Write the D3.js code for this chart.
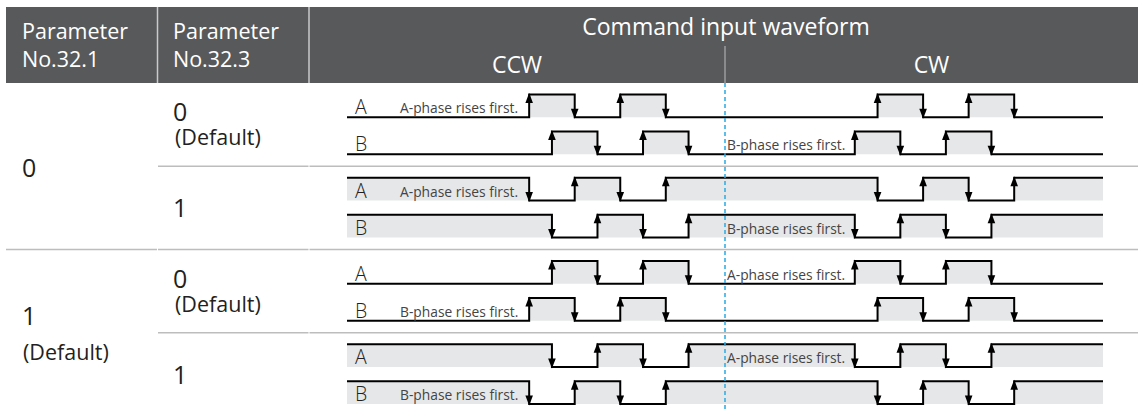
<!DOCTYPE html>
<html><head><meta charset="utf-8">
<script src="https://cdn.jsdelivr.net/npm/d3@7"></script>
<style>
html,body{margin:0;padding:0;background:#fff;}
svg{display:block;font-family:"Open Sans","Noto Sans",sans-serif;}
</style></head><body>
<svg id="chart" width="1138" height="409"></svg>
<script>
// ---------- data ----------
const headerParam1 = ["Parameter", "No.32.1"];
const headerParam2 = ["Parameter", "No.32.3"];
const headerTitle = "Command input waveform";
const directions = ["CCW", "CW"];
const groupLabels = ["0", "1"];          // Parameter No.32.1
const groupDefault = [false, true];
const rowKeys = ["r1", "r2", "r3", "r4"];
const rowParam323 = ["0", "1", "0", "1"]; // Parameter No.32.3
const rowDefault = [true, false, true, false];
const rowStartHigh = [false, true, false, true];
const channels = ["A", "B"];
// edge times (arbitrary time units) for each waveform
const r1A = [80, 100, 120, 140, 233, 253, 273, 293];
const r1B = [90, 110, 130, 150, 223, 243, 263, 283];
const r2A = [80, 100, 120, 140, 233, 253, 273, 293];
const r2B = [90, 110, 130, 150, 223, 243, 263, 283];
const r3A = [90, 110, 130, 150, 223, 243, 263, 283];
const r3B = [80, 100, 120, 140, 233, 253, 273, 293];
const r4A = [90, 110, 130, 150, 223, 243, 263, 283];
const r4B = [80, 100, 120, 140, 233, 253, 273, 293];
const timeDomain = [0, 332];
const dirBoundary = 166;
const noteRows = [0, 0, 1, 1, 2, 2, 3, 3];
const noteChannels = ["A", "B", "A", "B", "B", "A", "B", "A"];
const noteDirs = ["CCW", "CW", "CCW", "CW", "CCW", "CW", "CCW", "CW"];
const noteTexts = ["A-phase rises first.", "B-phase rises first.", "A-phase rises first.", "B-phase rises first.",
                   "B-phase rises first.", "A-phase rises first.", "B-phase rises first.", "A-phase rises first."];

const waves = [
  {row: 0, ch: "A", edges: r1A}, {row: 0, ch: "B", edges: r1B},
  {row: 1, ch: "A", edges: r2A}, {row: 1, ch: "B", edges: r2B},
  {row: 2, ch: "A", edges: r3A}, {row: 2, ch: "B", edges: r3B},
  {row: 3, ch: "A", edges: r4A}, {row: 3, ch: "B", edges: r4B}
];

// ---------- layout ----------
const svg = d3.select("#chart");
const W = 1138, H = 409;
const headerTop = 7, headerBottom = 83;
const col1 = 157.5, col2 = 309;
const x = d3.scaleLinear().domain(timeDomain).range([347, 1103]);
const rowY = d3.scaleBand().domain(rowKeys).range([83, 416]).padding(0);
const chLow = d3.scaleOrdinal().domain(channels).range([34.3, 71.3]);
const amp = 22.7;
const levelY = (row, ch, lvl) => rowY(rowKeys[row]) + chLow(ch) - lvl * amp;
const xDiv = x(dirBoundary);

const textColor = "#231f20";
const fillGray = "#e6e7e8";

// header
svg.append("rect").attr("x", 6).attr("y", headerTop).attr("width", W - 6).attr("height", headerBottom - headerTop).attr("fill", "#58595b");
[col1, col2].forEach(cx => {
  svg.append("line").attr("x1", cx).attr("x2", cx).attr("y1", headerTop).attr("y2", headerBottom)
    .attr("stroke", "#c9cacb").attr("stroke-width", 1.5);
});
svg.append("line").attr("x1", xDiv).attr("x2", xDiv).attr("y1", 46).attr("y2", headerBottom)
  .attr("stroke", "#bcbec0").attr("stroke-width", 1);

const hdrFont = 21.5;
headerParam1.forEach((t, i) => svg.append("text").attr("x", 22).attr("y", 39 + i * 28).text(t)
  .attr("fill", "#fff").attr("font-size", hdrFont).attr("font-weight", 400));
headerParam2.forEach((t, i) => svg.append("text").attr("x", 173).attr("y", 39 + i * 28).text(t)
  .attr("fill", "#fff").attr("font-size", hdrFont).attr("font-weight", 400));
svg.append("text").attr("x", xDiv + 1).attr("y", 35).attr("text-anchor", "middle").text(headerTitle)
  .attr("fill", "#fff").attr("font-size", 23).attr("font-weight", 400);
const dirCenters = [(col2 + xDiv) / 2, (xDiv + W) / 2];
directions.forEach((d, i) => svg.append("text").attr("x", dirCenters[i]).attr("y", 73).attr("text-anchor", "middle").text(d)
  .attr("fill", "#fff").attr("font-size", 23).attr("font-weight", 400));

// row separators
const sepColor = "#bdbdbd";
function hsep(y, x0) {
  const segs = x0 < col1 ? [[6, col1 - 0.5], [col1 + 0.5, col2 - 0.5], [col2 + 0.5, W]] : [[col1 + 0.5, col2 - 0.5], [col2 + 0.5, W]];
  segs.forEach(s => svg.append("line").attr("x1", s[0]).attr("x2", s[1]).attr("y1", y).attr("y2", y)
    .attr("stroke", sepColor).attr("stroke-width", 1.5));
}
hsep(rowY("r2"), col1);
hsep(rowY("r3"), 0);
hsep(rowY("r4"), col1);

// left column (No.32.1)
groupLabels.forEach((g, i) => {
  const top = rowY(rowKeys[i * 2]);
  const bottom = rowY(rowKeys[i * 2 + 1]) + rowY.bandwidth();
  const c = (top + bottom) / 2;
  const yMain = groupDefault[i] ? c - 8 : c + 11;
  svg.append("text").attr("x", 22).attr("y", yMain).text(g).attr("fill", textColor).attr("font-size", 25).attr("font-weight", 500);
  if (groupDefault[i]) {
    svg.append("text").attr("x", 23).attr("y", c + 27).text("(Default)").attr("fill", textColor).attr("font-size", 21.5).attr("font-weight", 400);
  }
});

// second column (No.32.3)
rowParam323.forEach((p, i) => {
  const top = rowY(rowKeys[i]);
  const yMain = rowDefault[i] ? top + 38 : top + 51;
  svg.append("text").attr("x", 173).attr("y", yMain).text(p).attr("fill", textColor).attr("font-size", 25).attr("font-weight", 500);
  if (rowDefault[i]) {
    svg.append("text").attr("x", 175).attr("y", top + 62).text("(Default)").attr("fill", textColor).attr("font-size", 21.5).attr("font-weight", 400);
  }
});

// waveforms
const line = d3.line().x(d => x(d.t)).y(d => d.y).curve(d3.curveStepAfter);
const area = d3.area().x(d => x(d.t)).y0(d => d.y0).y1(d => d.y).curve(d3.curveStepAfter);
const gFill = svg.append("g");
const gLine = svg.append("g");
const gArrow = svg.append("g");
const gLabel = svg.append("g");

waves.forEach(w => {
  let lvl = rowStartHigh[w.row] ? 1 : 0;
  const low = levelY(w.row, w.ch, 0), high = levelY(w.row, w.ch, 1);
  const pts = [{t: timeDomain[0], y: levelY(w.row, w.ch, lvl), y0: low}];
  const arrows = [];
  w.edges.forEach(t => {
    lvl = 1 - lvl;
    pts.push({t, y: levelY(w.row, w.ch, lvl), y0: low});
    arrows.push({t, up: lvl === 1});
  });
  pts.push({t: timeDomain[1], y: levelY(w.row, w.ch, lvl), y0: low});
  gFill.append("path").attr("d", area(pts)).attr("fill", fillGray);
  gLine.append("path").attr("d", line(pts)).attr("fill", "none").attr("stroke", "#000").attr("stroke-width", 2)
    .attr("stroke-linejoin", "miter").attr("stroke-linecap", "butt");
  arrows.forEach(a => {
    const ax = x(a.t);
    const p = a.up
      ? `M${ax},${high - 1.5}L${ax - 3.8},${high + 8.5}L${ax + 3.8},${high + 8.5}Z`
      : `M${ax},${low + 1.5}L${ax - 3.8},${low - 8.5}L${ax + 3.8},${low - 8.5}Z`;
    gArrow.append("path").attr("d", p).attr("fill", "#000");
  });
  gLabel.append("text").attr("x", 355).attr("y", low - 3).text(w.ch)
    .attr("fill", textColor).attr("font-size", 19.5).attr("font-weight", 300);
});

// notes
noteTexts.forEach((t, i) => {
  const low = levelY(noteRows[i], noteChannels[i], 0);
  const nx = noteDirs[i] === "CCW" ? 400 : xDiv + 2;
  gLabel.append("text").attr("x", nx).attr("y", low - 4).text(t)
    .attr("fill", "#444").attr("font-size", 13.8).attr("font-weight", 400);
});

// dashed direction divider
svg.append("line").attr("x1", xDiv).attr("x2", xDiv).attr("y1", headerBottom).attr("y2", H)
  .attr("stroke", "#29abe2").attr("stroke-width", 1.5).attr("stroke-dasharray", "4,3");
</script>
</body></html>
